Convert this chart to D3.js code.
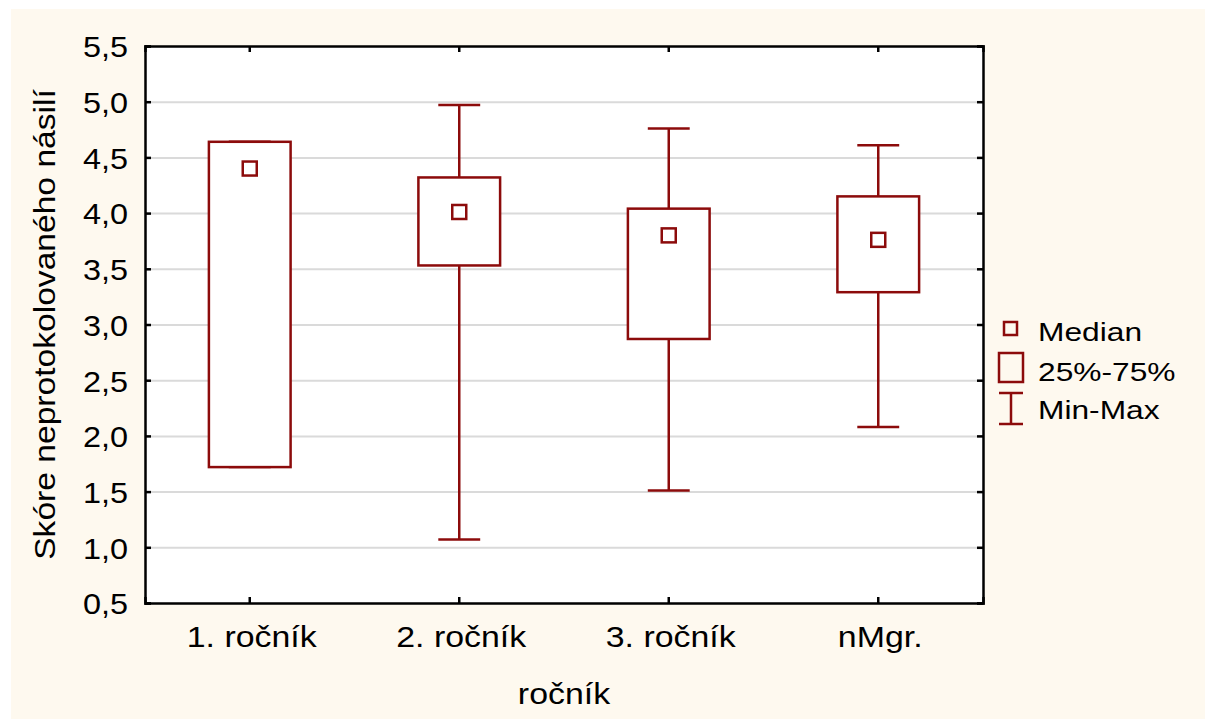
<!DOCTYPE html>
<html>
<head>
<meta charset="utf-8">
<script src="https://cdn.jsdelivr.net/npm/d3@7"></script>
<style>
body { margin: 0; background: #fff; }
text { font-family: "Liberation Sans", Arial, sans-serif; fill: #000; }
</style>
</head>
<body>
<div id="chart-area"></div>
<script>
// values
var categories = ["1. ročník", "2. ročník", "3. ročník", "nMgr."];
var minVals    = [1.72, 1.07, 1.51, 2.08];
var q1Vals     = [1.72, 3.53, 2.87, 3.29];
var medianVals = [4.40, 4.01, 3.80, 3.76];
var q3Vals     = [4.64, 4.32, 4.04, 4.15];
var maxVals    = [4.64, 4.97, 4.76, 4.61];
var yTicks = [0.5, 1.0, 1.5, 2.0, 2.5, 3.0, 3.5, 4.0, 4.5, 5.0, 5.5];
var legendLabels = ["Median", "25%-75%", "Min-Max"];

var W = 1205, H = 719;
var margin = {left: 145, top: 46, right: 222, bottom: 116};
var width = W - margin.left - margin.right;
var height = H - margin.top - margin.bottom;
var red = "#8c0b0b";

var svg = d3.select("#chart-area")
    .append("svg")
        .attr("width", W)
        .attr("height", H);

// cream paper
svg.append("rect")
    .attr("x", 11).attr("y", 9)
    .attr("width", W - 11).attr("height", H - 9)
    .attr("fill", "#fef9ef");

var g = svg.append("g")
    .attr("transform", "translate(" + margin.left + ", " + margin.top + ")");

g.append("rect")
    .attr("width", width).attr("height", height)
    .attr("fill", "#fff");

var x = d3.scaleBand()
    .domain(categories)
    .range([0, width])
    .padding(0);
var y = d3.scaleLinear()
    .domain([0.5, 5.5])
    .range([height, 0]);

var fmt = function(d){ return d3.format(".1f")(d).replace(".", ","); };

// grid
var grid = g.append("g")
    .call(d3.axisLeft(y).tickValues(yTicks.slice(1, -1)).tickSize(-width).tickFormat(""));
grid.select(".domain").remove();
grid.selectAll("line").attr("stroke", "#dadada").attr("stroke-width", 2);

// boxes
var data = categories.map(function(c, i){
    return {cat: c, min: minVals[i], q1: q1Vals[i], med: medianVals[i], q3: q3Vals[i], max: maxVals[i]};
});
var boxW = x.bandwidth() * 0.39;
var capW = x.bandwidth() * 0.2;
var medS = 14;

var boxes = g.selectAll(".box").data(data).enter()
    .append("g")
        .attr("class", "box")
        .attr("transform", function(d){ return "translate(" + (x(d.cat) + x.bandwidth() / 2) + ",0)"; });

boxes.append("line")
    .attr("x1", 0).attr("x2", 0)
    .attr("y1", function(d){ return y(d.max); })
    .attr("y2", function(d){ return y(d.min); })
    .attr("stroke", red).attr("stroke-width", 2.5);
boxes.append("line")
    .attr("x1", -capW / 2).attr("x2", capW / 2)
    .attr("y1", function(d){ return y(d.max); })
    .attr("y2", function(d){ return y(d.max); })
    .attr("stroke", red).attr("stroke-width", 2.5);
boxes.append("line")
    .attr("x1", -capW / 2).attr("x2", capW / 2)
    .attr("y1", function(d){ return y(d.min); })
    .attr("y2", function(d){ return y(d.min); })
    .attr("stroke", red).attr("stroke-width", 2.5);
boxes.append("rect")
    .attr("x", -boxW / 2)
    .attr("y", function(d){ return y(d.q3); })
    .attr("width", boxW)
    .attr("height", function(d){ return y(d.q1) - y(d.q3); })
    .attr("fill", "#fff")
    .attr("stroke", red).attr("stroke-width", 2.5);
boxes.append("rect")
    .attr("x", -medS / 2)
    .attr("y", function(d){ return y(d.med) - medS / 2; })
    .attr("width", medS).attr("height", medS)
    .attr("fill", "#fff")
    .attr("stroke", red).attr("stroke-width", 2.5);

// axes, ticks inside on all four sides
var yAxisGroup = g.append("g").call(d3.axisLeft(y).tickValues(yTicks).tickSize(-6).tickFormat(fmt));
yAxisGroup.selectAll("text")
    .attr("x", 0).attr("dy", "0.36em")
    .attr("font-size", "30px")
    .attr("transform", "translate(-17,0) scale(1.08,1)");

var rightAxis = g.append("g")
    .attr("transform", "translate(" + width + ",0)")
    .call(d3.axisRight(y).tickValues(yTicks).tickSize(-6).tickFormat(""));

var xAxisGroup = g.append("g")
    .attr("transform", "translate(0," + height + ")")
    .call(d3.axisBottom(x).tickSize(-6));
xAxisGroup.selectAll("text")
    .attr("y", 0).attr("dy", 0)
    .attr("font-size", "30px")
    .attr("transform", "translate(2,44) scale(1.13,1)");

var topAxis = g.append("g")
    .call(d3.axisTop(x).tickSize(-6).tickFormat(""));

[yAxisGroup, rightAxis, xAxisGroup, topAxis].forEach(function(a){
    a.select(".domain").attr("stroke", "#000").attr("stroke-width", 2.5);
    a.selectAll("line").attr("stroke", "#000").attr("stroke-width", 2.5);
});

// axis titles
g.append("text")
    .attr("text-anchor", "middle")
    .attr("font-size", "30px")
    .attr("transform", "translate(" + (width / 2) + "," + (height + 101) + ") scale(1.13,1)")
    .text("ročník");

g.append("text")
    .attr("text-anchor", "middle")
    .attr("font-size", "30px")
    .attr("transform", "translate(-90," + (height / 2) + ") rotate(-90) scale(1.12,1)")
    .text("Skóre neprotokolovaného násilí");

// legend
var lg = svg.append("g").attr("transform", "translate(998,0)");
lg.append("rect")
    .attr("x", 6).attr("y", 322).attr("width", 13).attr("height", 13)
    .attr("fill", "none").attr("stroke", red).attr("stroke-width", 2.5);
lg.append("rect")
    .attr("x", 1).attr("y", 353).attr("width", 24).attr("height", 29)
    .attr("fill", "none").attr("stroke", red).attr("stroke-width", 2.5);
lg.append("line").attr("x1", 13).attr("x2", 13).attr("y1", 393).attr("y2", 424)
    .attr("stroke", red).attr("stroke-width", 2.5);
lg.append("line").attr("x1", 1).attr("x2", 25).attr("y1", 393).attr("y2", 393)
    .attr("stroke", red).attr("stroke-width", 2.5);
lg.append("line").attr("x1", 1).attr("x2", 25).attr("y1", 424).attr("y2", 424)
    .attr("stroke", red).attr("stroke-width", 2.5);

var legendY = [341, 381, 419];
lg.selectAll(".lt").data(legendLabels).enter()
    .append("text")
        .attr("class", "lt")
        .attr("font-size", "26px")
        .attr("transform", function(d, i){ return "translate(40," + legendY[i] + ") scale(1.22,1)"; })
        .text(function(d){ return d; });
</script>
</body>
</html>
